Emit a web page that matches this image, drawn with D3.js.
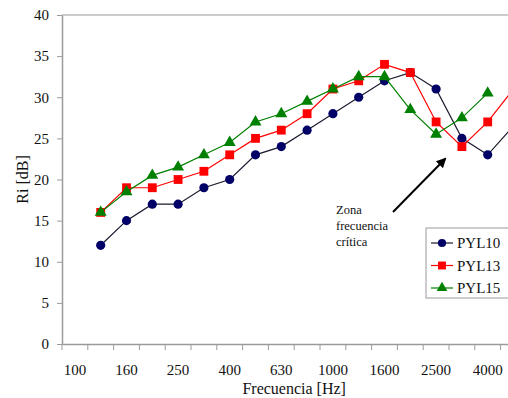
<!DOCTYPE html>
<html>
<head>
<meta charset="utf-8">
<script src="https://cdn.jsdelivr.net/npm/d3@7"></script>
<style>
  body { margin: 0; background: #fff; overflow: hidden; }
  svg text { font-family: "Liberation Serif", "Times New Roman", Times, "DejaVu Serif", serif; }
</style>
</head>
<body>
<svg id="chart" width="508" height="398"></svg>
<script>
const freqs = ["100", "125", "160", "200", "250", "315", "400", "500", "630", "800",
  "1000", "1250", "1600", "2000", "2500", "3150", "4000", "5000"];
const pyl10 = [null, 12, 15, 17, 17, 19, 20, 23, 24, 26, 28, 30, 32, 33, 31, 25, 23, 26.5];
const pyl13 = [null, 16, 19, 19, 20, 21, 23, 25, 26, 28, 31, 32, 34, 33, 27, 24, 27, 31];
const pyl15 = [null, 16, 18.5, 20.5, 21.5, 23, 24.5, 27, 28, 29.5, 31, 32.5, 32.5, 28.5, 25.5, 27.5, 30.5, null];
const yTicks = [0, 5, 10, 15, 20, 25, 30, 35, 40];
const noteLines = ["Zona", "frecuencia", "crítica"];

const series = [
  { name: "PYL10", values: pyl10, line: "#1a1a2e", fill: "#000066", shape: d3.symbolCircle, size: 66 },
  { name: "PYL13", values: pyl13, line: "#ff0000", fill: "#ff0000", shape: d3.symbolSquare, size: 78 },
  { name: "PYL15", values: pyl15, line: "#008000", fill: "#008000", shape: d3.symbolTriangle, size: 62 },
];

const svg = d3.select("#chart");
const plotLeft = 62, plotTop = 15, plotBottom = 344;
const plotRight = plotLeft + 25.8 * freqs.length;
const axisColor = "#9a9a9a";

const x = d3.scaleBand().domain(freqs).range([plotLeft, plotRight]).paddingInner(0).paddingOuter(0);
const y = d3.scaleLinear().domain([0, 40]).range([plotBottom, plotTop]);
const cx = (f) => x(f) + x.bandwidth() / 2;

// top frame line
svg.append("line")
  .attr("x1", plotLeft).attr("x2", plotRight)
  .attr("y1", plotTop).attr("y2", plotTop)
  .attr("stroke", axisColor).attr("stroke-width", 1.2);

// y axis
const yAxis = svg.append("g")
  .attr("transform", `translate(${plotLeft},0)`)
  .call(d3.axisLeft(y).tickValues(yTicks).tickSize(5).tickPadding(8).tickSizeOuter(0));
yAxis.select(".domain").attr("stroke", axisColor).attr("stroke-width", 1.5);
yAxis.selectAll(".tick line").attr("stroke", axisColor);
yAxis.selectAll("text").attr("font-size", 15).attr("fill", "#111");

// x axis labels (every other category)
const xAxis = svg.append("g")
  .attr("transform", `translate(0,${plotBottom})`)
  .call(d3.axisBottom(x).tickSize(0).tickPadding(20).tickSizeOuter(0)
    .tickFormat((d, i) => (i % 2 === 0 ? d : "")));
xAxis.select(".domain").attr("stroke", axisColor).attr("stroke-width", 1.5);
xAxis.selectAll("text").attr("font-size", 15).attr("fill", "#111");

// x ticks on category boundaries
svg.append("g")
  .selectAll("line")
  .data(freqs.concat(["end"]))
  .join("line")
  .attr("x1", (d) => (d === "end" ? plotRight : x(d)))
  .attr("x2", (d) => (d === "end" ? plotRight : x(d)))
  .attr("y1", plotBottom).attr("y2", plotBottom + 6)
  .attr("stroke", axisColor).attr("stroke-width", 1);

// axis titles
svg.append("text")
  .attr("x", (plotLeft + plotRight) / 2).attr("y", 394)
  .attr("text-anchor", "middle")
  .attr("font-size", 16).attr("fill", "#111")
  .text("Frecuencia [Hz]");

svg.append("text")
  .attr("transform", `translate(28,${(plotTop + plotBottom) / 2}) rotate(-90)`)
  .attr("text-anchor", "middle")
  .attr("font-size", 16).attr("fill", "#111")
  .text("Ri [dB]");

// series
const line = d3.line()
  .defined((d) => d.v !== null)
  .x((d) => cx(d.f))
  .y((d) => y(d.v));

series.forEach((s) => {
  const pts = freqs.map((f, i) => ({ f, v: s.values[i] }));
  svg.append("path")
    .datum(pts)
    .attr("fill", "none")
    .attr("stroke", s.line)
    .attr("stroke-width", 1.2)
    .attr("d", line);
  svg.append("g")
    .selectAll("path")
    .data(pts.filter((d) => d.v !== null))
    .join("path")
    .attr("transform", (d) => `translate(${cx(d.f)},${y(d.v)})`)
    .attr("d", d3.symbol(s.shape, s.size))
    .attr("fill", s.fill);
});

// annotation
const note = svg.append("text")
  .attr("x", 336).attr("y", 214)
  .attr("font-size", 12.5).attr("fill", "#111");
noteLines.forEach((t, i) => {
  note.append("tspan").attr("x", 336).attr("dy", i === 0 ? 0 : 16).text(t);
});

svg.append("defs").append("marker")
  .attr("id", "arrowhead")
  .attr("viewBox", "0 -5 10 10")
  .attr("refX", 8).attr("refY", 0)
  .attr("markerWidth", 5).attr("markerHeight", 5)
  .attr("orient", "auto")
  .append("path")
  .attr("d", "M0,-5L10,0L0,5Z")
  .attr("fill", "#000");

svg.append("line")
  .attr("x1", 393).attr("y1", 212)
  .attr("x2", 445).attr("y2", 159)
  .attr("stroke", "#000").attr("stroke-width", 2)
  .attr("marker-end", "url(#arrowhead)");

// legend
const legend = svg.append("g");
legend.append("rect")
  .attr("x", 426).attr("y", 228)
  .attr("width", 100).attr("height", 70)
  .attr("fill", "#fff").attr("stroke", axisColor).attr("stroke-width", 1);

series.forEach((s, i) => {
  const ly = 243 + i * 22.5;
  legend.append("line")
    .attr("x1", 431).attr("x2", 453)
    .attr("y1", ly).attr("y2", ly)
    .attr("stroke", s.line).attr("stroke-width", 1.2);
  legend.append("path")
    .attr("transform", `translate(442,${ly})`)
    .attr("d", d3.symbol(s.shape, s.size * 0.8))
    .attr("fill", s.fill);
  legend.append("text")
    .attr("x", 457).attr("y", ly + 5)
    .attr("font-size", 15).attr("fill", "#111")
    .text(s.name);
});
</script>
</body>
</html>
